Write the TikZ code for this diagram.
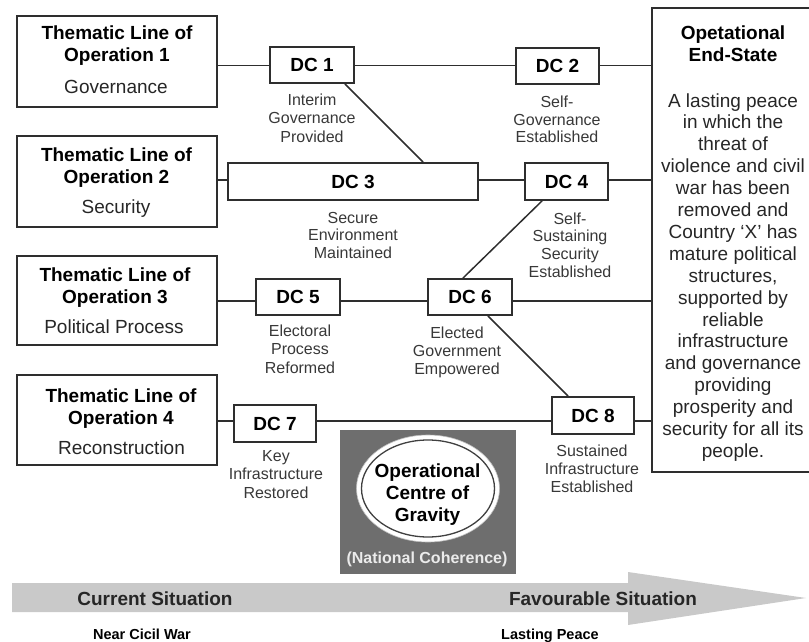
\documentclass[tikz,border=0pt]{standalone}
\usepackage{fontspec}
\setmainfont{Liberation Sans}
\usetikzlibrary{shapes.geometric}
\definecolor{ln}{HTML}{2E2E2E}
\definecolor{lab}{HTML}{383838}
\definecolor{cog}{HTML}{6E6E6E}
\definecolor{band}{HTML}{C9C9C9}
\begin{document}
\begin{tikzpicture}[x=1pt,y=-1pt,
  tlbox/.style={draw=ln, line width=1.9pt, minimum width=200pt, inner sep=0pt},
  dcbox/.style={draw=ln, line width=1.9pt, inner sep=0pt, font=\bfseries\fontsize{19}{22}\selectfont},
  bigb/.style={anchor=base, inner sep=0pt, font=\bfseries\fontsize{19}{22}\selectfont},
  bigr/.style={anchor=base, inner sep=0pt, text=black!85, font=\fontsize{19}{22}\selectfont},
  dclab/.style={anchor=base, inner sep=0pt, text=lab, font=\fontsize{16}{18}\selectfont},
  conn/.style={draw=ln, line width=1.9pt}]
\useasboundingbox (0,0) rectangle (809,642);

% row reference coordinates
\coordinate (r1) at (0,65.5);
\coordinate (r2) at (0,180);
\coordinate (r3) at (0,301);
\coordinate (r4) at (0,421);

% thematic boxes
\node[tlbox, minimum height=91pt] (t1) at (117,61.5) {};
\node[tlbox, minimum height=91pt] (t2) at (117,181.5) {};
\node[tlbox, minimum height=89pt] (t3) at (117,300.5) {};
\node[tlbox, minimum height=90pt] (t4) at (117,420) {};

\node[bigb] (t1a) at (117,40) {Thematic Line of};
\node[bigb] (t1b) at (117,62) {Operation 1};
\node[bigr] (t1c) at (116,93) {Governance};
\node[bigb] (t2a) at (116.5,161) {Thematic Line of};
\node[bigb] (t2b) at (116.5,183) {Operation 2};
\node[bigr] (t2c) at (116,213) {Security};
\node[bigb] (t3a) at (115,281) {Thematic Line of};
\node[bigb] (t3b) at (115,303) {Operation 3};
\node[bigr] (t3c) at (114,333) {Political Process};
\node[bigb] (t4a) at (121,402) {Thematic Line of};
\node[bigb] (t4b) at (121,424) {Operation 4};
\node[bigr] (t4c) at (121.5,454) {Reconstruction};

% end state box
\node[draw=ln, line width=1.9pt, minimum width=162pt, minimum height=464pt, inner sep=0pt] (es) at (733,240) {};
\node[bigb] (esa) at (733,40) {Opetational};
\node[bigb] (esb) at (733,62) {End-State};
\foreach \t [count=\i from 0] in {A lasting peace,in which the,threat of,violence and civil,war has been,removed and,Country `X' has,mature political,structures{,},supported by,reliable,infrastructure,and governance,providing,prosperity and,security for all its,people.}
  \node[bigr] (es-\i) at ({733},{107+21.9*\i}) {\t};

% DC boxes
\node[dcbox, minimum width=84pt, minimum height=36pt] (dc1) at (312,65) {DC 1};
\node[dcbox, minimum width=83pt, minimum height=36pt] (dc2) at (557.5,66) {DC 2};
\node[dcbox, minimum width=250pt, minimum height=37pt] (dc3) at (353,181.5) {DC 3};
\node[dcbox, minimum width=83pt, minimum height=37pt] (dc4) at (566.5,181.5) {DC 4};
\node[dcbox, minimum width=84pt, minimum height=36pt] (dc5) at (298,297) {DC 5};
\node[dcbox, minimum width=84pt, minimum height=36pt] (dc6) at (470,297) {DC 6};
\node[dcbox, minimum width=82pt, minimum height=37pt] (dc7) at (275,423.5) {DC 7};
\node[dcbox, minimum width=82pt, minimum height=37pt] (dc8) at (593,415.5) {DC 8};

% horizontal connectors
\draw[conn] (t1.east |- r1) -- (dc1.west |- r1);
\draw[conn] (dc1.east |- r1) -- (dc2.west |- r1);
\draw[conn] (dc2.east |- r1) -- (es.west |- r1);
\draw[conn] (t2.east |- r2) -- (dc3.west |- r2);
\draw[conn] (dc3.east |- r2) -- (dc4.west |- r2);
\draw[conn] (dc4.east |- r2) -- (es.west |- r2);
\draw[conn] (t3.east |- r3) -- (dc5.west |- r3);
\draw[conn] (dc5.east |- r3) -- (dc6.west |- r3);
\draw[conn] (dc6.east |- r3) -- (es.west |- r3);
\draw[conn] (t4.east |- r4) -- (dc7.west |- r4);
\draw[conn] (dc7.east |- r4) -- (dc8.west |- r4);
\draw[conn] (dc8.east |- r4) -- (es.west |- r4);

% diagonal connectors
\coordinate (x1) at (345,0);
\coordinate (x2) at (423,0);
\coordinate (x3) at (542,0);
\coordinate (x4) at (463,0);
\coordinate (x5) at (488,0);
\coordinate (x6) at (568,0);
\draw[conn, line width=1.5pt] (dc1.south -| x1) -- (dc3.north -| x2);
\draw[conn, line width=1.5pt] (dc4.south -| x3) -- (dc6.north -| x4);
\draw[conn, line width=1.5pt] (dc6.south -| x5) -- (dc8.north -| x6);

% DC labels
\foreach \t [count=\i from 0] in {Interim,Governance,Provided}
  \node[dclab] (l1-\i) at ({312},{106+18*\i}) {\t};
\foreach \t [count=\i from 0] in {Self-,Governance,Established}
  \node[dclab] (l2-\i) at ({557},{107.5+17.5*\i}) {\t};
\foreach \t [count=\i from 0] in {Secure,Environment,Maintained}
  \node[dclab] (l3-\i) at ({353},{223+17.5*\i}) {\t};
\foreach \t [count=\i from 0] in {Self-,Sustaining,Security,Established}
  \node[dclab] (l4-\i) at ({570},{224+17.7*\i}) {\t};
\foreach \t [count=\i from 0] in {Electoral,Process,Reformed}
  \node[dclab] (l5-\i) at ({300},{336+18.5*\i}) {\t};
\foreach \t [count=\i from 0] in {Elected,Government,Empowered}
  \node[dclab] (l6-\i) at ({457},{338+18*\i}) {\t};
\foreach \t [count=\i from 0] in {Key,Infrastructure,Restored}
  \node[dclab] (l7-\i) at ({276},{461+18.5*\i}) {\t};
\foreach \t [count=\i from 0] in {Sustained,Infrastructure,Established}
  \node[dclab] (l8-\i) at ({592},{456+18*\i}) {\t};

% centre of gravity
\node[fill=cog, minimum width=176pt, minimum height=144pt, inner sep=0pt] (cogbox) at (428,502) {};
\node[ellipse, fill=white, draw=white!75!black, line width=0.6pt, minimum width=143pt, minimum height=107pt, inner sep=0pt] (cogo) at (428,488.5) {};
\node[ellipse, draw=black!75, line width=1.3pt, minimum width=133pt, minimum height=97pt, inner sep=0pt] (cogi) at (428,488.5) {};
\node[bigb] (cg1) at (427.5,477) {Operational};
\node[bigb] (cg2) at (427.5,499) {Centre of};
\node[bigb] (cg3) at (427.5,521) {Gravity};
\node[anchor=base, inner sep=0pt, text=white!92!black, font=\bfseries\fontsize{16}{18}\selectfont] (nc) at (427,563) {(National Coherence)};

% arrow band
\fill[band] (12,583) -- (628,583) -- (628,572) -- (806,598) -- (628,625) -- (628,612) -- (12,612) -- cycle;
\node[bigb, text=black!85] (cs) at (155,605) {Current Situation};
\node[bigb, text=black!85] (fs) at (603,605) {Favourable Situation};
\node[anchor=base, inner sep=0pt, font=\bfseries\fontsize{14.5}{16}\selectfont] (ncw) at (142,639) {Near Cicil War};
\node[anchor=base, inner sep=0pt, font=\bfseries\fontsize{14.5}{16}\selectfont] (lp) at (550,639) {Lasting Peace};
\end{tikzpicture}
\end{document}
